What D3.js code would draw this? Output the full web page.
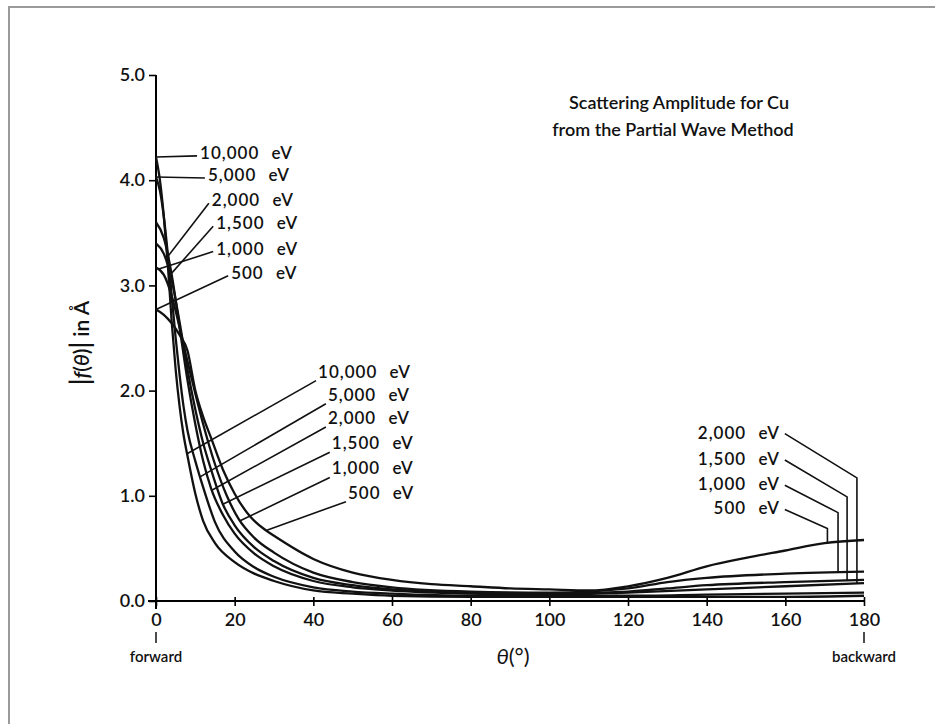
<!DOCTYPE html>
<html>
<head>
<meta charset="utf-8">
<script src="https://cdn.jsdelivr.net/npm/d3@7"></script>
<style>
  body { margin: 0; background: #fff; }
  svg { display: block; }
  text { font-family: Lato, "DejaVu Sans", sans-serif; fill: #111; }
</style>
</head>
<body>
<svg id="chart" width="935" height="724"></svg>
<script>
// axis ticks
const thetaTicks = [0, 20, 40, 60, 80, 100, 120, 140, 160, 180];
const ampTicks = [0, 1, 2, 3, 4, 5];

// curves: angle (deg) and |f(theta)| (Angstrom)
const energies = ["10,000 eV", "5,000 eV", "2,000 eV", "1,500 eV", "1,000 eV", "500 eV"];

const theta10000 = [0, 1, 2, 3, 4, 5, 6, 7, 8, 10, 12, 15, 20, 25, 30, 40, 50, 60, 80, 100, 120, 140, 160, 180];
const amp10000   = [4.22, 4.0, 3.65, 3.2, 2.65, 2.2, 1.85, 1.58, 1.38, 1.02, 0.76, 0.55, 0.37, 0.26, 0.19, 0.1, 0.07, 0.05, 0.04, 0.04, 0.04, 0.04, 0.04, 0.05];

const theta5000 = [0, 1, 2, 3, 4, 5, 6, 7, 8, 10, 12, 15, 20, 25, 30, 40, 50, 60, 80, 100, 120, 140, 160, 180];
const amp5000   = [4.03, 3.9, 3.65, 3.3, 2.9, 2.5, 2.15, 1.85, 1.62, 1.33, 1.08, 0.75, 0.47, 0.32, 0.23, 0.13, 0.09, 0.07, 0.05, 0.05, 0.05, 0.06, 0.07, 0.08];

const theta2000 = [0, 2, 4, 6, 8, 10, 12, 14, 17, 20, 25, 30, 40, 50, 60, 80, 100, 120, 140, 160, 180];
const amp2000   = [3.6, 3.45, 3.1, 2.6, 2.1, 1.68, 1.33, 1.07, 0.82, 0.64, 0.45, 0.33, 0.19, 0.13, 0.1, 0.07, 0.06, 0.08, 0.11, 0.14, 0.17];

const theta1500 = [0, 2, 4, 6, 8, 10, 12, 14, 17, 20, 25, 30, 40, 50, 60, 80, 100, 120, 130, 140, 160, 180];
const amp1500   = [3.4, 3.3, 3.05, 2.65, 2.2, 1.82, 1.5, 1.25, 0.92, 0.72, 0.51, 0.38, 0.22, 0.15, 0.11, 0.08, 0.07, 0.09, 0.12, 0.15, 0.18, 0.2];

const theta1000 = [0, 2, 4, 6, 8, 10, 12, 15, 18, 21, 25, 30, 40, 50, 60, 80, 100, 120, 130, 140, 160, 180];
const amp1000   = [3.17, 3.1, 2.9, 2.6, 2.28, 1.97, 1.68, 1.3, 1.0, 0.78, 0.6, 0.46, 0.27, 0.18, 0.13, 0.09, 0.08, 0.12, 0.18, 0.22, 0.26, 0.28];

const theta500 = [0, 2, 4, 6, 8, 10, 12, 14, 17, 20, 24, 28, 30, 40, 50, 60, 70, 80, 90, 100, 110, 120, 130, 140, 150, 160, 170, 180];
const amp500   = [2.77, 2.72, 2.64, 2.53, 2.38, 2.0, 1.75, 1.55, 1.25, 1.02, 0.8, 0.67, 0.62, 0.4, 0.27, 0.2, 0.16, 0.14, 0.12, 0.11, 0.1, 0.14, 0.22, 0.33, 0.41, 0.48, 0.55, 0.58];

// label anchors in data units (theta, amplitude)
const topLabelTheta = [11.2, 13.2, 14.2, 15.3, 15.3, 19.1];
const topLabelAmp   = [4.26, 4.05, 3.81, 3.59, 3.35, 3.12];
const topLeaderTheta = [0, 0, 3, 3.6, 0.5, 0];

const midLabelTheta = [41.2, 43.7, 43.7, 44.7, 44.7, 48.8];
const midLabelAmp   = [2.18, 1.96, 1.74, 1.5, 1.26, 1.03];
const midLeaderTheta = [7.9, 11.2, 14.2, 17, 21.4, 28];

const rightEnergies = ["2,000 eV", "1,500 eV", "1,000 eV", "500 eV"];
const rightLabelTheta = 158.6;
const rightLabelAmp = [1.6, 1.35, 1.11, 0.88];
const rightBendTheta = [178.2, 175.7, 173.4, 170.7];
const rightBendAmp = [1.17, 0.99, 0.84, 0.69];

const series = [
  { name: "10,000 eV", theta: theta10000, amp: amp10000 },
  { name: "5,000 eV", theta: theta5000, amp: amp5000 },
  { name: "2,000 eV", theta: theta2000, amp: amp2000 },
  { name: "1,500 eV", theta: theta1500, amp: amp1500 },
  { name: "1,000 eV", theta: theta1000, amp: amp1000 },
  { name: "500 eV", theta: theta500, amp: amp500 }
];

const svg = d3.select("#chart");

// scanned page frame (top and left edges show)
svg.append("path")
  .attr("d", "M9,724 V7 H935")
  .attr("fill", "none")
  .attr("stroke", "#9a9a9a")
  .attr("stroke-width", 2);

const x = d3.scaleLinear().domain([0, 180]).range([156, 864]);
const y = d3.scaleLinear().domain([0, 5]).range([601, 75]);

// value on a curve at angle t
function ampAt(s, t) {
  return d3.scaleLinear().domain(s.theta).range(s.amp)(t);
}

// axes
const xAxis = svg.append("g")
  .attr("transform", `translate(0,${y(0)})`)
  .call(d3.axisBottom(x).tickValues(thetaTicks).tickSize(5).tickSizeOuter(0).tickPadding(7));
xAxis.selectAll(".tick line").attr("y1", -4).attr("stroke-width", 1.6);
xAxis.select(".domain").attr("stroke-width", 2).attr("d", `M${x(0) - 8},0H${x(180)}`);
xAxis.selectAll(".tick text").style("font-size", "18px").style("font-weight", "600");

const yAxis = svg.append("g")
  .attr("transform", `translate(${x(0)},0)`)
  .call(d3.axisLeft(y).tickValues(ampTicks).tickFormat(d3.format(".1f")).tickSize(7).tickSizeOuter(0).tickPadding(4));
yAxis.selectAll(".tick line").attr("stroke-width", 1.6);
yAxis.select(".domain").attr("stroke-width", 2).attr("d", `M0,${y(5)}V${y(0) + 8}`);
yAxis.selectAll(".tick text").style("font-size", "18px").style("font-weight", "600");

// curves
const line = d3.line()
  .x(d => x(d[0]))
  .y(d => y(d[1]))
  .curve(d3.curveMonotoneX);

svg.append("g")
  .selectAll("path")
  .data(series)
  .join("path")
  .attr("d", s => line(d3.zip(s.theta, s.amp)))
  .attr("fill", "none")
  .attr("stroke", "#111")
  .attr("stroke-width", 2.3);

// labels + leader lines
const labelStyle = sel => sel
  .style("font-size", "17px")
  .style("font-weight", "600")
  .style("letter-spacing", "1px")
  .style("word-spacing", "7px");

const topGroup = svg.append("g");
series.forEach((s, i) => {
  const lx = x(topLabelTheta[i]), ly = y(topLabelAmp[i]);
  const t = topLeaderTheta[i];
  topGroup.append("line")
    .attr("x1", lx - 3).attr("y1", ly + 3)
    .attr("x2", x(t)).attr("y2", y(ampAt(s, t)))
    .attr("stroke", "#111").attr("stroke-width", 1.6);
  topGroup.append("text")
    .attr("x", lx).attr("y", ly).attr("dy", "0.35em")
    .text(s.name)
    .call(labelStyle);
});

const midGroup = svg.append("g");
series.forEach((s, i) => {
  const lx = x(midLabelTheta[i]), ly = y(midLabelAmp[i]);
  const t = midLeaderTheta[i];
  midGroup.append("line")
    .attr("x1", lx - 2).attr("y1", ly + 9)
    .attr("x2", x(t)).attr("y2", y(ampAt(s, t)))
    .attr("stroke", "#111").attr("stroke-width", 1.6);
  midGroup.append("text")
    .attr("x", lx).attr("y", ly).attr("dy", "0.35em")
    .text(s.name)
    .call(labelStyle);
});

const rightGroup = svg.append("g");
rightEnergies.forEach((name, i) => {
  const s = series.find(d => d.name === name);
  const lx = x(rightLabelTheta), ly = y(rightLabelAmp[i]);
  const bt = rightBendTheta[i];
  rightGroup.append("path")
    .attr("d", `M${lx + 5},${ly + 1}L${x(bt)},${y(rightBendAmp[i])}L${x(bt)},${y(ampAt(s, bt))}`)
    .attr("fill", "none")
    .attr("stroke", "#111").attr("stroke-width", 1.6);
  rightGroup.append("text")
    .attr("x", lx).attr("y", ly).attr("dy", "0.35em")
    .attr("text-anchor", "end")
    .text(name)
    .call(labelStyle);
});

// title
svg.append("text")
  .attr("x", 679).attr("y", 103).attr("dy", "0.35em")
  .attr("text-anchor", "middle")
  .style("font-size", "18px").style("font-weight", "600")
  .text("Scattering Amplitude for Cu");
svg.append("text")
  .attr("x", 673).attr("y", 130).attr("dy", "0.35em")
  .attr("text-anchor", "middle")
  .style("font-size", "18px").style("font-weight", "600")
  .text("from the Partial Wave Method");

// axis titles
svg.append("text")
  .attr("transform", "translate(82,343) rotate(-90)")
  .attr("text-anchor", "middle")
  .attr("dy", "0.35em")
  .style("font-size", "21px").style("font-weight", "600")
  .html('<tspan style="font-size:26px">|</tspan><tspan font-style="italic">f</tspan>(<tspan font-style="italic">θ</tspan>)<tspan style="font-size:26px">|</tspan> in Å');

svg.append("text")
  .attr("x", 513).attr("y", 656).attr("dy", "0.35em")
  .attr("text-anchor", "middle")
  .style("font-size", "22px")
  .html('<tspan font-style="italic">θ</tspan>(°)');

// forward / backward markers
[[0, "forward"], [180, "backward"]].forEach(([t, word]) => {
  svg.append("line")
    .attr("x1", x(t)).attr("x2", x(t))
    .attr("y1", 632).attr("y2", 643)
    .attr("stroke", "#111").attr("stroke-width", 1.5);
  svg.append("text")
    .attr("x", x(t)).attr("y", 657).attr("dy", "0.35em")
    .attr("text-anchor", "middle")
    .style("font-size", "15px").style("font-weight", "600")
    .text(word);
});
</script>
</body>
</html>
